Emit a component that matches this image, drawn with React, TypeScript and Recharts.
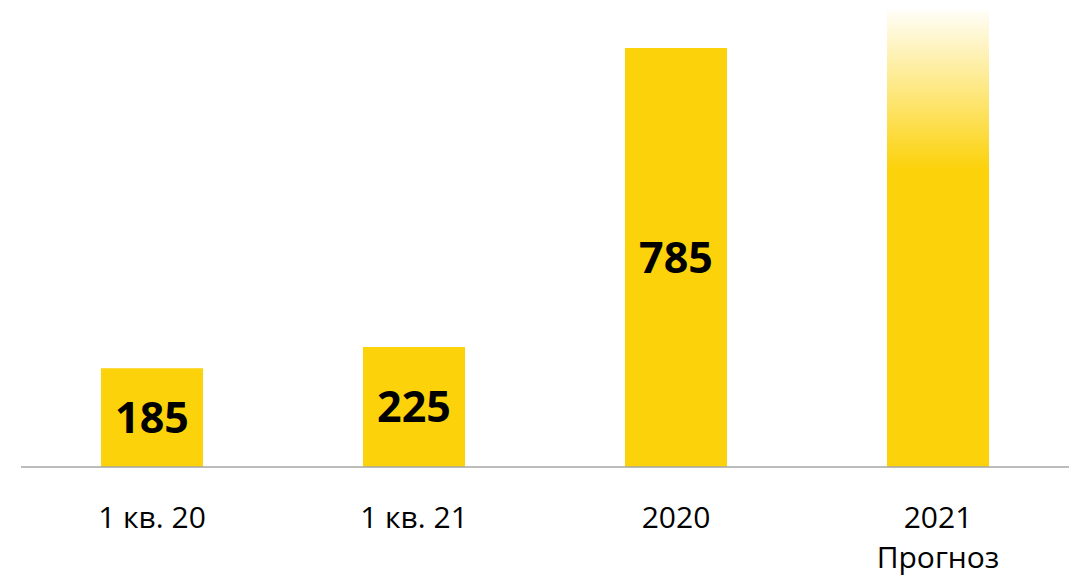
import React from "react";
import { BarChart, Bar, Cell, XAxis, YAxis, LabelList } from "recharts";

const CATEGORIES = ["1 кв. 20", "1 кв. 21", "2020", "2021\nПрогноз"];
const VALUES = [185, 225, 785, 856];
const SHOW_LABEL = [true, true, true, false];

const YELLOW = "#FCD20A";

const data = CATEGORIES.map((name, i) => ({
  name,
  value: VALUES[i],
  label: SHOW_LABEL[i] ? VALUES[i] : "",
}));

const Tick = (props: any) => {
  const { x, y, payload } = props;
  const lines = String(payload.value).split("\n");
  return (
    <g transform={`translate(${x},${y})`}>
      {lines.map((line: string, i: number) => (
        <text
          key={i}
          x={0}
          y={53 + i * 40}
          textAnchor="middle"
          fill="#000"
          fontSize={30}
          fontFamily="Open Sans"
        >
          {line}
        </text>
      ))}
    </g>
  );
};

export default function App() {
  return (
    <div style={{ position: "absolute", left: 0, top: 0, background: "#fff" }}>
      <BarChart
        width={1076}
        height={576}
        data={data}
        margin={{ top: 0, right: 7, bottom: 79, left: 21 }}
      >
        <defs>
          <linearGradient id="fade" x1="0" y1="0" x2="0" y2="1">
            <stop offset="0" stopColor={YELLOW} stopOpacity={0.03} />
            <stop offset="0.35" stopColor={YELLOW} stopOpacity={1} />
            <stop offset="1" stopColor={YELLOW} stopOpacity={1} />
          </linearGradient>
        </defs>
        <XAxis
          dataKey="name"
          axisLine={{ stroke: "#A6A6A6", strokeWidth: 1.5 }}
          tickLine={false}
          tick={<Tick />}
          interval={0}
        />
        <YAxis hide domain={[0, 875]} />
        <Bar dataKey="value" barSize={102} isAnimationActive={false}>
          {data.map((d, i) => (
            <Cell key={i} fill={i === 3 ? "url(#fade)" : YELLOW} />
          ))}
          <LabelList
            dataKey="label"
            position="center"
            fill="#000"
            fontSize={43}
            fontWeight={700}
            fontFamily="Open Sans"
          />
        </Bar>
      </BarChart>
    </div>
  );
}
